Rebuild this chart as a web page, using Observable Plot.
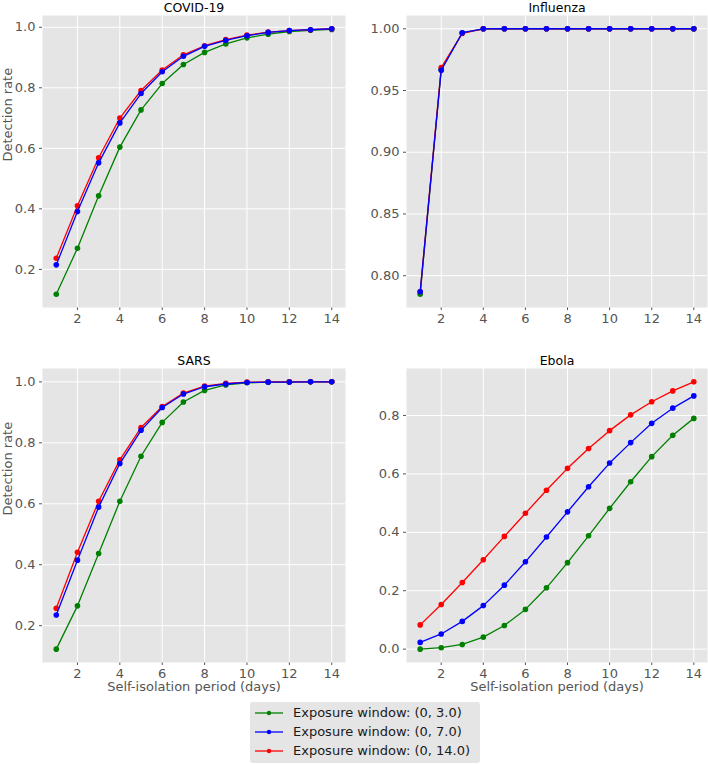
<!DOCTYPE html>
<html>
<head>
<meta charset="utf-8">
<script src="https://cdn.jsdelivr.net/npm/d3@7"></script>
<script src="https://cdn.jsdelivr.net/npm/@observablehq/plot@0.6"></script>
<style>
  body { margin: 0; background: #fff; font-family: "DejaVu Sans", sans-serif; }
  #wrap { position: relative; width: 708px; height: 764px; overflow: hidden; background: #fff; }
  .panel { position: absolute; }
  .panel g[aria-label*="axis"], .panel g[aria-label*="axis"] text { font-size: 13px; font-family: "DejaVu Sans", sans-serif; }
  #legend { position: absolute; left: 250px; top: 702px; width: 230px; height: 61px; background: #e5e5e5;
            border-radius: 3px; box-sizing: border-box; padding-top: 1px; }
  .lrow { display: flex; align-items: center; height: 19px; padding-left: 5px; font-size: 13px; color: #1a1a1a; white-space: nowrap; }
  .lrow svg { margin-right: 10px; }
</style>
</head>
<body>
<div id="wrap"><div id="legend"></div></div>
<script>
const days = [1, 2, 3, 4, 5, 6, 7, 8, 9, 10, 11, 12, 13, 14];
const windows = ["Exposure window: (0, 3.0)", "Exposure window: (0, 7.0)", "Exposure window: (0, 14.0)"];
const colors = ["#008000", "#0000ff", "#ff0000"];
const xTicks = [2, 4, 6, 8, 10, 12, 14];

const covid3  = [0.118, 0.270, 0.443, 0.604, 0.727, 0.814, 0.877, 0.917, 0.945, 0.965, 0.977, 0.986, 0.990, 0.993];
const covid7  = [0.215, 0.391, 0.552, 0.684, 0.781, 0.853, 0.904, 0.937, 0.957, 0.972, 0.983, 0.989, 0.992, 0.995];
const covid14 = [0.237, 0.410, 0.569, 0.700, 0.791, 0.859, 0.909, 0.939, 0.959, 0.974, 0.984, 0.989, 0.992, 0.995];

const flu3  = [0.785, 0.967, 0.9966, 1.0, 1.0, 1.0, 1.0, 1.0, 1.0, 1.0, 1.0, 1.0, 1.0, 1.0];
const flu7  = [0.787, 0.9664, 0.9968, 1.0, 1.0, 1.0, 1.0, 1.0, 1.0, 1.0, 1.0, 1.0, 1.0, 1.0];
const flu14 = [0.787, 0.9685, 0.9963, 1.0, 1.0, 1.0, 1.0, 1.0, 1.0, 1.0, 1.0, 1.0, 1.0, 1.0];

const sars3  = [0.123, 0.265, 0.437, 0.608, 0.756, 0.867, 0.934, 0.972, 0.990, 0.997, 0.999, 1.0, 1.0, 1.0];
const sars7  = [0.235, 0.415, 0.589, 0.732, 0.841, 0.916, 0.960, 0.984, 0.993, 0.998, 0.999, 0.999, 1.0, 1.0];
const sars14 = [0.257, 0.441, 0.608, 0.744, 0.850, 0.919, 0.963, 0.986, 0.995, 0.999, 1.0, 1.0, 1.0, 1.0];

const ebola3  = [0.000, 0.005, 0.016, 0.041, 0.081, 0.136, 0.210, 0.296, 0.388, 0.482, 0.573, 0.659, 0.732, 0.790];
const ebola7  = [0.023, 0.052, 0.095, 0.149, 0.219, 0.299, 0.384, 0.470, 0.556, 0.637, 0.707, 0.773, 0.825, 0.867];
const ebola14 = [0.083, 0.153, 0.228, 0.306, 0.386, 0.465, 0.544, 0.619, 0.687, 0.748, 0.802, 0.847, 0.884, 0.915];

const yTicksMain = [0.2, 0.4, 0.6, 0.8, 1.0];
const yTicksFlu = [0.80, 0.85, 0.90, 0.95, 1.00];
const yTicksEbola = [0.0, 0.2, 0.4, 0.6, 0.8];

function panel(cfg) {
  const series = [cfg.s3, cfg.s7, cfg.s14];
  const all = series.flat();
  const [lo, hi] = d3.extent(all);
  const pad = (hi - lo) * 0.05;
  const order = [0, 2, 1]; // draw blue last (on top)
  const marks = [
    Plot.frame({fill: "#e5e5e5", stroke: null}),
    Plot.gridX(xTicks, {stroke: "white", strokeOpacity: 1, strokeWidth: 1}),
    Plot.gridY(cfg.yTicks, {stroke: "white", strokeOpacity: 1, strokeWidth: 1})
  ];
  for (const k of order) {
    const rows = days.map((d, i) => ({day: d, rate: series[k][i]}));
    marks.push(Plot.line(rows, {x: "day", y: "rate", stroke: colors[k], strokeWidth: 1.3}));
    marks.push(Plot.dot(rows, {x: "day", y: "rate", fill: colors[k], r: 2.8}));
  }
  marks.push(Plot.text([cfg.title], {text: d => d, frameAnchor: "top", lineAnchor: "bottom", dy: -4, fill: "#000", fontSize: 12.5, fontWeight: "normal"}));
  if (cfg.ylabel) marks.push(Plot.text([cfg.ylabel], {text: d => d, frameAnchor: "left", rotate: -90, dx: -35, fill: "#555", fontSize: 13}));
  if (cfg.xlabel) marks.push(Plot.text([cfg.xlabel], {text: d => d, frameAnchor: "bottom", lineAnchor: "middle", dy: 24.5, fill: "#555", fontSize: 13}));
  const chart = Plot.plot({
    width: cfg.width, height: cfg.height,
    marginLeft: cfg.mL, marginRight: cfg.mR, marginTop: cfg.mT, marginBottom: cfg.mB,
    style: {fontFamily: "DejaVu Sans, sans-serif", fontSize: "13px", color: "#555", background: "transparent", overflow: "visible"},
    x: {domain: [0.35, 14.65], ticks: xTicks, tickSize: 3, tickPadding: 3, label: null},
    y: {domain: [lo - pad, hi + pad], ticks: cfg.yTicks, tickFormat: cfg.fmt, tickSize: 3, tickPadding: 4, label: null},
    marks
  });
  chart.classList.add("panel");
  chart.style.left = cfg.left + "px";
  chart.style.top = cfg.top + "px";
  document.getElementById("wrap").appendChild(chart);
}

panel({title: "COVID-19", s3: covid3, s7: covid7, s14: covid14, yTicks: yTicksMain, fmt: d3.format(".1f"),
  left: 0, top: 0, width: 354, height: 340, mL: 42, mR: 9, mT: 15, mB: 33, ylabel: "Detection rate"});
panel({title: "Influenza", s3: flu3, s7: flu7, s14: flu14, yTicks: yTicksFlu, fmt: d3.format(".2f"),
  left: 354, top: 0, width: 354, height: 340, mL: 52, mR: 1, mT: 15, mB: 33});
panel({title: "SARS", s3: sars3, s7: sars7, s14: sars14, yTicks: yTicksMain, fmt: d3.format(".1f"),
  left: 0, top: 340, width: 354, height: 350, mL: 42, mR: 9, mT: 28, mB: 28, ylabel: "Detection rate", xlabel: "Self-isolation period (days)"});
panel({title: "Ebola", s3: ebola3, s7: ebola7, s14: ebola14, yTicks: yTicksEbola, fmt: d3.format(".1f"),
  left: 354, top: 340, width: 354, height: 350, mL: 52, mR: 1, mT: 28, mB: 28, xlabel: "Self-isolation period (days)"});

const legend = document.getElementById("legend");
windows.forEach((w, i) => {
  const row = document.createElement("div");
  row.className = "lrow";
  row.innerHTML = `<svg width="28" height="10"><line x1="0" x2="28" y1="5" y2="5" stroke="${colors[i]}" stroke-width="1.3"/><circle cx="14" cy="5" r="2.2" fill="${colors[i]}"/></svg><span>${w}</span>`;
  legend.appendChild(row);
});
</script>
</body>
</html>
